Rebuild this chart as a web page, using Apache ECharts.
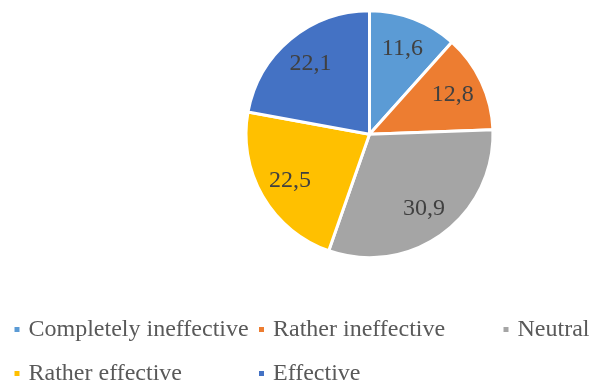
<!DOCTYPE html>
<html>
<head>
<meta charset="utf-8">
<script src="https://cdn.jsdelivr.net/npm/echarts@6/dist/echarts.min.js"></script>
<style>
html,body{margin:0;padding:0;background:#fff;}
#chart{width:591px;height:381px;}
</style>
</head>
<body>
<div id="chart"></div>
<script>
const categories = ['Completely ineffective', 'Rather ineffective', 'Neutral', 'Rather effective', 'Effective'];
const values = [11.6, 12.8, 30.9, 22.5, 22.1];
const colors = ['#5B9BD5', '#ED7D31', '#A5A5A5', '#FFC000', '#4472C4'];
const legendColumns = [
  ['Completely ineffective', 'Rather effective'],
  ['Rather ineffective', 'Effective'],
  ['Neutral']
];

const data = categories.map((c, i) => ({ name: c, value: values[i], itemStyle: { color: colors[i] } }));
const font = '"Liberation Serif", "Times New Roman", serif';
const legendLeft = [12.5, 257, 501.5];

const chart = echarts.init(document.getElementById('chart'), null, { renderer: 'canvas' });
chart.setOption({
  backgroundColor: '#ffffff',
  animation: false,
  legend: legendColumns.map((col, k) => ({
    data: col,
    orient: 'vertical',
    left: legendLeft[k],
    top: 317.5,
    width: 240,
    height: 80,
    padding: 0,
    itemGap: 20,
    itemWidth: 7,
    itemHeight: 7,
    icon: 'rect',
    selectedMode: false,
    textStyle: { fontFamily: font, fontSize: 24, lineHeight: 24, color: '#595959', padding: [0, 0, 0, 3] }
  })),
  series: [
    {
      type: 'pie',
      center: [369.5, 134.2],
      radius: [0, 123.5],
      startAngle: 90,
      clockwise: true,
      silent: true,
      data: data,
      itemStyle: { borderColor: '#ffffff', borderWidth: 3 },
      label: { show: false },
      labelLine: { show: false }
    },
    {
      type: 'pie',
      center: [369.5, 134.2],
      radius: [56, 122],
      startAngle: 90,
      clockwise: true,
      silent: true,
      data: categories.map((c, i) => ({ name: c, value: values[i] })),
      itemStyle: { color: 'rgba(0,0,0,0)', borderWidth: 0 },
      label: {
        show: true,
        position: 'inside',
        formatter: p => String(p.value).replace('.', ','),
        fontFamily: font,
        fontSize: 24,
        color: '#404040'
      },
      labelLine: { show: false }
    }
  ]
});
</script>
</body>
</html>
